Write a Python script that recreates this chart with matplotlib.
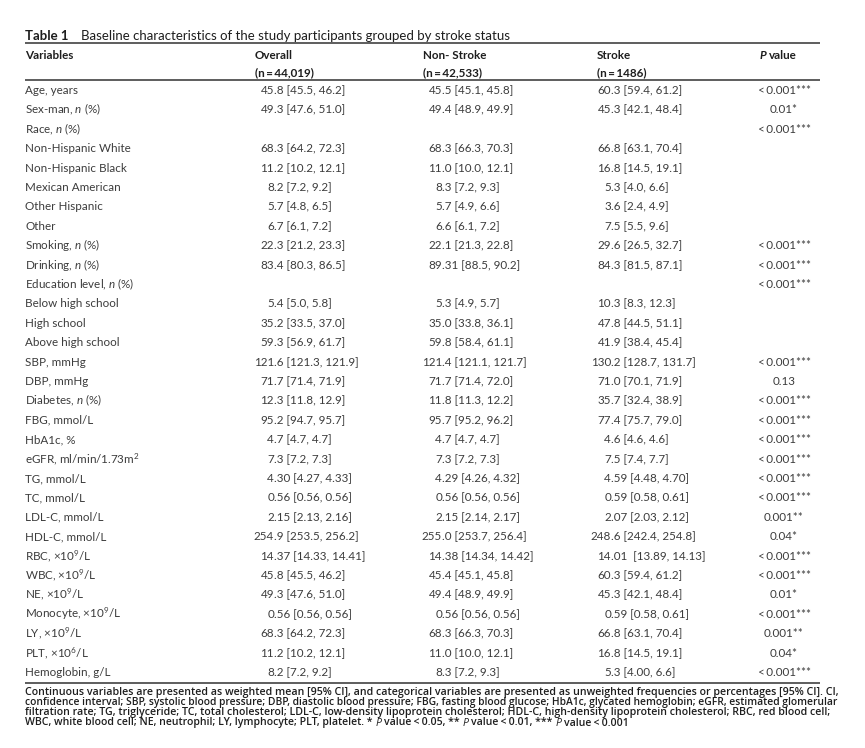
import matplotlib
matplotlib.use('Agg')
import matplotlib.pyplot as plt

FONT = 'Lato'
FOOT_FONT = 'Open Sans'
plt.rcParams['font.family'] = [FONT, 'DejaVu Sans']
plt.rcParams['mathtext.fontset'] = 'custom'
plt.rcParams['mathtext.rm'] = FONT
plt.rcParams['mathtext.it'] = FONT + ':italic'
plt.rcParams['mathtext.bf'] = FONT + ':bold'

# ---------------- data ----------------
title_bold = "Table 1"
title_rest = "Baseline characteristics of the study participants grouped by stroke status"
col_headers = ["Variables", "Overall", "Non- Stroke", "Stroke"]
col_ns = ["", "(n\u2009=\u200944,019)", "(n\u2009=\u200942,533)", "(n\u2009=\u20091486)"]

variables = ["Age, years", "Sex-man, $n$ (%)", "Race, $n$ (%)", "Non-Hispanic White",
             "Non-Hispanic Black", "Mexican American", "Other Hispanic", "Other",
             "Smoking, $n$ (%)", "Drinking, $n$ (%)", "Education level, $n$ (%)",
             "Below high school", "High school", "Above high school", "SBP, mmHg",
             "DBP, mmHg", "Diabetes, $n$ (%)", "FBG, mmol/L", "HbA1c, %",
             "eGFR, ml/min/1.73m$^2$", "TG, mmol/L", "TC, mmol/L", "LDL-C, mmol/L",
             "HDL-C, mmol/L", "RBC, \u00d710$^9$/L", "WBC, \u00d710$^9$/L",
             "NE, \u00d710$^9$/L", "Monocyte, \u00d710$^9$/L", "LY, \u00d710$^9$/L",
             "PLT, \u00d710$^6$/L", "Hemoglobin, g/L"]

overall = ["45.8 [45.5, 46.2]", "49.3 [47.6, 51.0]", "", "68.3 [64.2, 72.3]",
           "11.2 [10.2, 12.1]", "8.2 [7.2, 9.2]", "5.7 [4.8, 6.5]", "6.7 [6.1, 7.2]",
           "22.3 [21.2, 23.3]", "83.4 [80.3, 86.5]", "", "5.4 [5.0, 5.8]",
           "35.2 [33.5, 37.0]", "59.3 [56.9, 61.7]", "121.6 [121.3, 121.9]",
           "71.7 [71.4, 71.9]", "12.3 [11.8, 12.9]", "95.2 [94.7, 95.7]",
           "4.7 [4.7, 4.7]", "7.3 [7.2, 7.3]", "4.30 [4.27, 4.33]", "0.56 [0.56, 0.56]",
           "2.15 [2.13, 2.16]", "254.9 [253.5, 256.2]", "14.37 [14.33, 14.41]",
           "45.8 [45.5, 46.2]", "49.3 [47.6, 51.0]", "0.56 [0.56, 0.56]",
           "68.3 [64.2, 72.3]", "11.2 [10.2, 12.1]", "8.2 [7.2, 9.2]"]

non_stroke = ["45.5 [45.1, 45.8]", "49.4 [48.9, 49.9]", "", "68.3 [66.3, 70.3]",
              "11.0 [10.0, 12.1]", "8.3 [7.2, 9.3]", "5.7 [4.9, 6.6]", "6.6 [6.1, 7.2]",
              "22.1 [21.3, 22.8]", "89.31 [88.5, 90.2]", "", "5.3 [4.9, 5.7]",
              "35.0 [33.8, 36.1]", "59.8 [58.4, 61.1]", "121.4 [121.1, 121.7]",
              "71.7 [71.4, 72.0]", "11.8 [11.3, 12.2]", "95.7 [95.2, 96.2]",
              "4.7 [4.7, 4.7]", "7.3 [7.2, 7.3]", "4.29 [4.26, 4.32]", "0.56 [0.56, 0.56]",
              "2.15 [2.14, 2.17]", "255.0 [253.7, 256.4]", "14.38 [14.34, 14.42]",
              "45.4 [45.1, 45.8]", "49.4 [48.9, 49.9]", "0.56 [0.56, 0.56]",
              "68.3 [66.3, 70.3]", "11.0 [10.0, 12.1]", "8.3 [7.2, 9.3]"]

stroke = ["60.3 [59.4, 61.2]", "45.3 [42.1, 48.4]", "", "66.8 [63.1, 70.4]",
          "16.8 [14.5, 19.1]", "5.3 [4.0, 6.6]", "3.6 [2.4, 4.9]", "7.5 [5.5, 9.6]",
          "29.6 [26.5, 32.7]", "84.3 [81.5, 87.1]", "", "10.3 [8.3, 12.3]",
          "47.8 [44.5, 51.1]", "41.9 [38.4, 45.4]", "130.2 [128.7, 131.7]",
          "71.0 [70.1, 71.9]", "35.7 [32.4, 38.9]", "77.4 [75.7, 79.0]",
          "4.6 [4.6, 4.6]", "7.5 [7.4, 7.7]", "4.59 [4.48, 4.70]", "0.59 [0.58, 0.61]",
          "2.07 [2.03, 2.12]", "248.6 [242.4, 254.8]", "14.01  [13.89, 14.13]",
          "60.3 [59.4, 61.2]", "45.3 [42.1, 48.4]", "0.59 [0.58, 0.61]",
          "66.8 [63.1, 70.4]", "16.8 [14.5, 19.1]", "5.3 [4.00, 6.6]"]

LT = "<\u20090.001***"
p_values = [LT, "0.01*", LT, "", "", "", "", "", LT, LT, LT, "", "", "",
            LT, "0.13", LT, LT, LT, LT, LT, LT, "0.001**", "0.04*", LT, LT,
            "0.01*", LT, "0.001**", "0.04*", LT]

foot_lines = [
    "Continuous variables are presented as weighted mean [95% CI], and categorical variables are presented as unweighted frequencies or percentages [95% CI]. CI,",
    "confidence interval; SBP, systolic blood pressure; DBP, diastolic blood pressure; FBG, fasting blood glucose; HbA1c, glycated hemoglobin; eGFR, estimated glomerular",
    "filtration rate; TG, triglyceride; TC, total cholesterol; LDL-C, low-density lipoprotein cholesterol; HDL-C, high-density lipoprotein cholesterol; RBC, red blood cell;",
]
foot_last = "WBC, white blood cell; NE, neutrophil; LY, lymphocyte; PLT, platelet. * |P| value\u2009<\u20090.05, ** |P| value\u2009<\u20090.01, *** |P| value\u2009<\u20090.001"

# ---------------- layout ----------------
W, H = 865, 748
fig = plt.figure(figsize=(W / 100, H / 100), dpi=100)
ax = fig.add_axes([0, 0, 1, 1])
ax.set_xlim(0, W)
ax.set_ylim(H, 0)
ax.axis('off')
renderer = fig.canvas.get_renderer()

TXT = '#3c3c3c'
DARK = '#1e1e1e'
RULE = '#4a4a4a'
X0, X1 = 25, 820


def width_of(s, fs, **kw):
    t = ax.text(0, 0, s, fontsize=fs, **kw)
    w = t.get_window_extent(renderer=renderer).width
    t.remove()
    return w


def fit_size(s, target, **kw):
    return 10 * target / width_of(s, 10, **kw)


fs_data = fit_size("Non-Hispanic White", 105)
fs_title = fit_size(title_rest, 431)
fs_head = fs_data
BL = 4.0  # baseline offset below visual row centre

# title
ax.text(X0, 35 + 4.5, title_bold, fontsize=fs_title, fontweight='bold', color=DARK, va='baseline')
ax.text(81, 35 + 4.5, title_rest, fontsize=fs_title, color=DARK, va='baseline')

# rules
for yy in (43, 80, 682.5):
    ax.plot([X0, X1], [yy, yy], color=RULE, lw=1.25, solid_capstyle='butt')

# headers
head_x = [X0, 255, 423, 597]
for hx, h, n in zip(head_x, col_headers, col_ns):
    ax.text(hx, 55 + BL, h, fontsize=fs_head, fontweight='bold', color=DARK, va='baseline')
    if n:
        ax.text(hx, 72 + BL, n, fontsize=fs_head, fontweight='bold', color=DARK, va='baseline')
tP = ax.text(760, 55 + BL, "P", fontsize=fs_head, fontweight='bold', fontstyle='italic',
             color=DARK, va='baseline')
wP = tP.get_window_extent(renderer=renderer).width
ax.text(760 + wP + 2.5, 55 + BL, "value", fontsize=fs_head, fontweight='bold', color=DARK,
        va='baseline')

# rows
Y0, DY = 90, 19.4
dec_x = [274, 442, 611]
P_X = 784
for i, var in enumerate(variables):
    y = Y0 + i * DY + BL
    ax.text(X0, y, var, fontsize=fs_data, color=TXT, va='baseline')
    for dx, col in zip(dec_x, (overall, non_stroke, stroke)):
        v = col[i]
        if not v:
            continue
        k = v.index('.')
        ax.text(dx, y, v[:k], fontsize=fs_data, color=TXT, va='baseline', ha='right')
        ax.text(dx, y, v[k:], fontsize=fs_data, color=TXT, va='baseline', ha='left')
    if p_values[i]:
        ax.text(P_X, y, p_values[i], fontsize=fs_data, color=TXT, va='baseline', ha='center')

# footnote: each full line set as one text, sized to span the table width
foot_kw = dict(family=[FOOT_FONT, 'DejaVu Sans'], fontweight='semibold', color=DARK)
FX1 = 836
fy = [692, 702, 712, 722]
FBL = 3.5
sizes = []
for line, y in zip(foot_lines, fy):
    fs = fit_size(line, FX1 - X0, **foot_kw)
    sizes.append(fs)
    ax.text(X0, y + FBL, line, fontsize=fs, va='baseline', **foot_kw)

# last line (natural width) with italic P
fs_last = sum(sizes) / len(sizes)
ital_kw = dict(family=[FOOT_FONT, 'DejaVu Sans'], fontstyle='italic', fontweight='normal',
               color=DARK)
space_w = width_of("a a", fs_last, **foot_kw) - width_of("aa", fs_last, **foot_kw)
x = X0
segs = foot_last.split('|')
for j, seg in enumerate(segs):
    kw = ital_kw if j % 2 == 1 else foot_kw
    lead = seg.startswith(' ')
    trail = seg.endswith(' ')
    s = seg.strip(' ')
    if lead:
        x += space_w
    t = ax.text(x, fy[3] + FBL, s, fontsize=fs_last, va='baseline', **kw)
    x += t.get_window_extent(renderer=renderer).width
    if trail:
        x += space_w

fig.savefig('out.png', dpi=100)
